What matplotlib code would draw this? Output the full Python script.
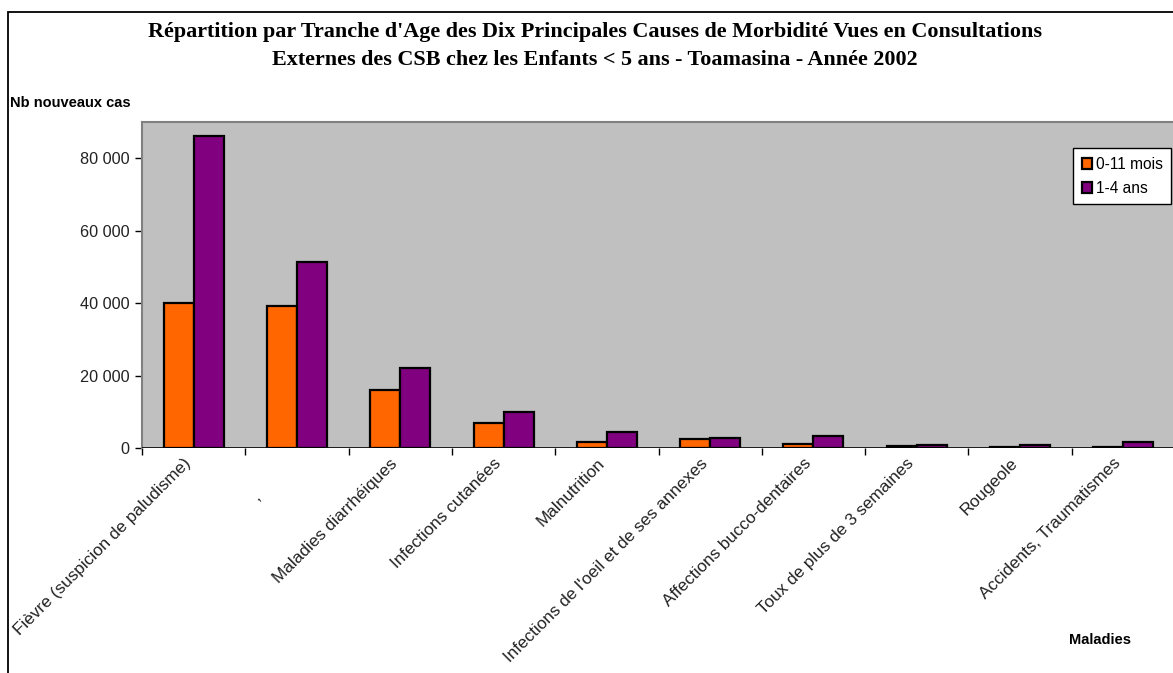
import matplotlib
matplotlib.use("Agg")
import matplotlib.pyplot as plt
import numpy as np
from matplotlib.patches import Rectangle
from matplotlib.ticker import FuncFormatter, MultipleLocator
import matplotlib.transforms as mtransforms

categories = [
    "Fièvre (suspicion de paludisme)",
    "," + "\u00a0" * 10,
    "Maladies diarrhéiques",
    "Infections cutanées",
    "Malnutrition",
    "Infections de l'oeil et de ses annexes",
    "Affections bucco-dentaires",
    "Toux de plus de 3 semaines",
    "Rougeole",
    "Accidents, Traumatismes",
]
series_names = ["0-11 mois", "1-4 ans"]
vals_0_11 = [40100, 39300, 16000, 6800, 1750, 2500, 1200, 470, 200, 200]
vals_1_4 = [86000, 51300, 22000, 10000, 4500, 2850, 3400, 830, 920, 1750]

title1 = "Répartition par Tranche d'Age des Dix Principales Causes de Morbidité Vues en Consultations"
title2 = "Externes des CSB chez les Enfants < 5 ans - Toamasina - Année 2002"
ylabel = "Nb nouveaux cas"
xlabel = "Maladies"

W, H = 1173, 673
fig = plt.figure(figsize=(W / 100, H / 100), dpi=100)
fig.patch.set_facecolor("white")

# outer chart frame (cropped on right/bottom)
fig.add_artist(Rectangle((8 / W, -0.2), 1.5, (1 - 12 / H) + 0.2, transform=fig.transFigure,
                         fill=False, edgecolor="black", linewidth=1.3))

left_px, right_px, top_px, bot_px = 142, 1175, 122, 448
ax = fig.add_axes([left_px / W, 1 - bot_px / H, (right_px - left_px) / W, (bot_px - top_px) / H])
ax.set_facecolor("#C0C0C0")

x = np.arange(len(categories))
bw = 0.29
sans = ["Liberation Sans", "DejaVu Sans"]
b1 = ax.bar(x - bw / 2, vals_0_11, bw, color="#FF6600", edgecolor="black", linewidth=1.6,
            label=series_names[0], zorder=3)
b2 = ax.bar(x + bw / 2, vals_1_4, bw, color="#800080", edgecolor="black", linewidth=1.6,
            label=series_names[1], zorder=3)

ax.set_xlim(-0.5, len(categories) - 0.5)
ax.set_ylim(0, 90000)
ax.yaxis.set_major_locator(MultipleLocator(20000))
ax.yaxis.set_major_formatter(FuncFormatter(lambda v, p: f"{int(v):,}".replace(",", " ")))
ax.set_xticks(np.arange(-0.5, len(categories) + 0.5, 1.0))
ax.set_xticklabels([])
ax.tick_params(axis="x", direction="out", length=5, width=1, color="black")
ax.tick_params(axis="y", direction="out", length=5, width=1, color="black", pad=4,
               labelsize=11.7, labelcolor="#222222")
for lab in ax.get_yticklabels():
    lab.set_family(sans)

for s in ["right", "bottom"]:
    ax.spines[s].set_visible(False)
ax.spines["left"].set_color("#808080")
ax.spines["top"].set_color("#808080")
ax.spines["left"].set_linewidth(1.5)
ax.spines["top"].set_linewidth(1.5)
ax.axhline(0, color="black", linewidth=1.2, zorder=4)

# category labels
trans = mtransforms.blended_transform_factory(ax.transData, ax.transAxes)
offset = mtransforms.ScaledTranslation(-5 / 100, -13 / 100, fig.dpi_scale_trans)
for xi, lab in zip(x, categories):
    ax.text(xi, 0, lab, transform=trans + offset, rotation=45, rotation_mode="anchor",
            ha="right", va="center", fontsize=12.3, family=sans, color="#222222")

serif = ["Liberation Serif", "DejaVu Serif"]
fig.text(595 / W, 1 - 32 / H, title1, ha="center", va="center", fontsize=15.9,
         fontweight="bold", family=serif)
fig.text(595 / W, 1 - 60 / H, title2, ha="center", va="center", fontsize=15.9,
         fontweight="bold", family=serif)
fig.text(10 / W, 1 - 103 / H, ylabel, ha="left", va="center", fontsize=10.5,
         fontweight="bold", family=sans)
fig.text(1100 / W, 1 - 640 / H, xlabel, ha="center", va="center", fontsize=10.5,
         fontweight="bold", family=sans)

leg = fig.legend(handles=[b1, b2], labels=series_names, loc="upper left",
                 bbox_to_anchor=(1073 / W, 1 - 148 / H), borderaxespad=0, fancybox=False,
                 framealpha=1, edgecolor="black", handlelength=0.7, handleheight=0.7,
                 handletextpad=0.2, borderpad=0.55, labelspacing=0.6,
                 prop={"family": sans, "size": 11.2})
leg.get_frame().set_linewidth(1.0)

fig.savefig("out.png", dpi=100)
